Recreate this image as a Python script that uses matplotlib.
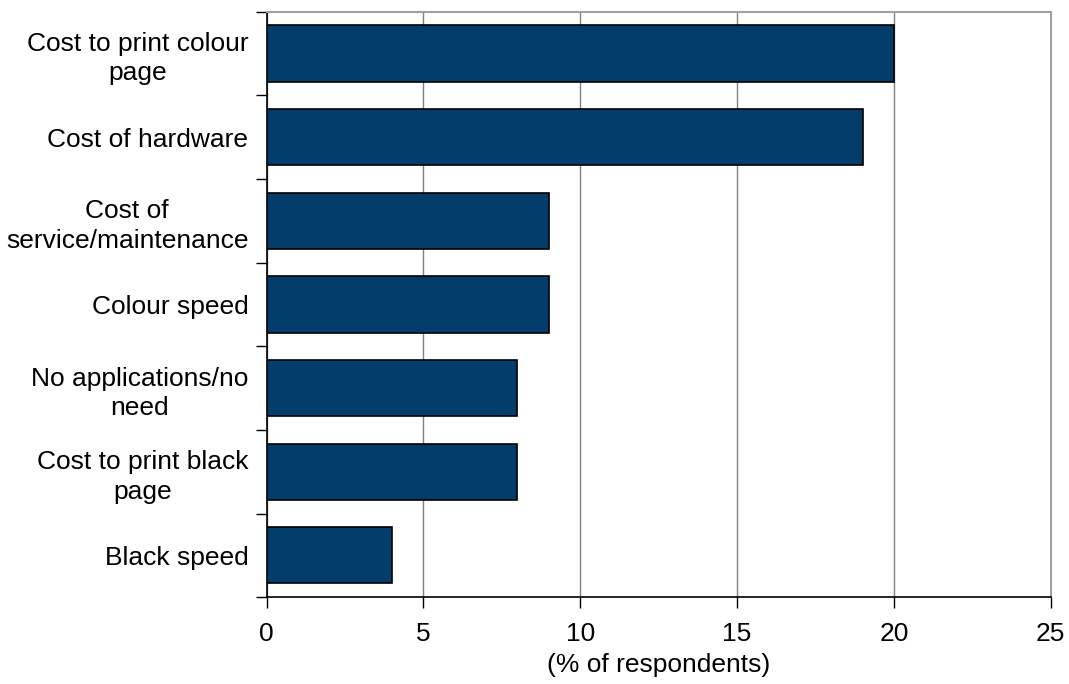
import matplotlib
matplotlib.use('Agg')
import numpy as np
from matplotlib import pyplot as plt, rcParams, ticker

rcParams.update({'font.family': 'Liberation Sans', 'font.size': 19})

categories = ['Cost to print colour\npage', 'Cost of hardware',
              'Cost of\nservice/maintenance', 'Colour speed',
              'No applications/no\nneed', 'Cost to print black\npage',
              'Black speed']
values = [20, 19, 9, 9, 8, 8, 4]

bar_color = '#023d6b'
grid_color = '#808080'

fig = plt.figure(figsize=(10.69, 6.84), dpi=100)
ax = fig.add_axes((0.2493, 0.1268, 0.7336, 0.8561))

y = np.arange(len(categories))
ax.barh(y, values, height=0.67, color=bar_color, edgecolor='black', lw=1.2, zorder=3)

ax.set_ylim(len(categories) - 0.5, -0.5)
ax.set_yticks(y)
ax.set_yticklabels(categories, ha='right', multialignment='center', linespacing=1.28)
ax.tick_params(axis='y', length=0, pad=13)
# Мітки на межах категорій
ax.yaxis.set_minor_locator(ticker.FixedLocator(np.arange(-0.5, len(categories), 1)))
ax.tick_params(axis='y', which='minor', length=8, width=1, color='black')

ax.set_xlim(0, 25)
ax.xaxis.set_major_locator(ticker.MultipleLocator(5))
ax.tick_params(axis='x', length=8, width=1, pad=10)
ax.set_xlabel('(% of respondents)', labelpad=5)
ax.grid(axis='x', color=grid_color, lw=1, zorder=0)

ax.spines['top'].set_color('#a0a0a0')
ax.spines['right'].set_color('#a0a0a0')
ax.spines['top'].set_linewidth(1.5)
ax.spines['right'].set_linewidth(1.5)
ax.spines['left'].set_linewidth(1.2)
ax.spines['bottom'].set_linewidth(1.2)

plt.savefig('out.png', dpi=100)
